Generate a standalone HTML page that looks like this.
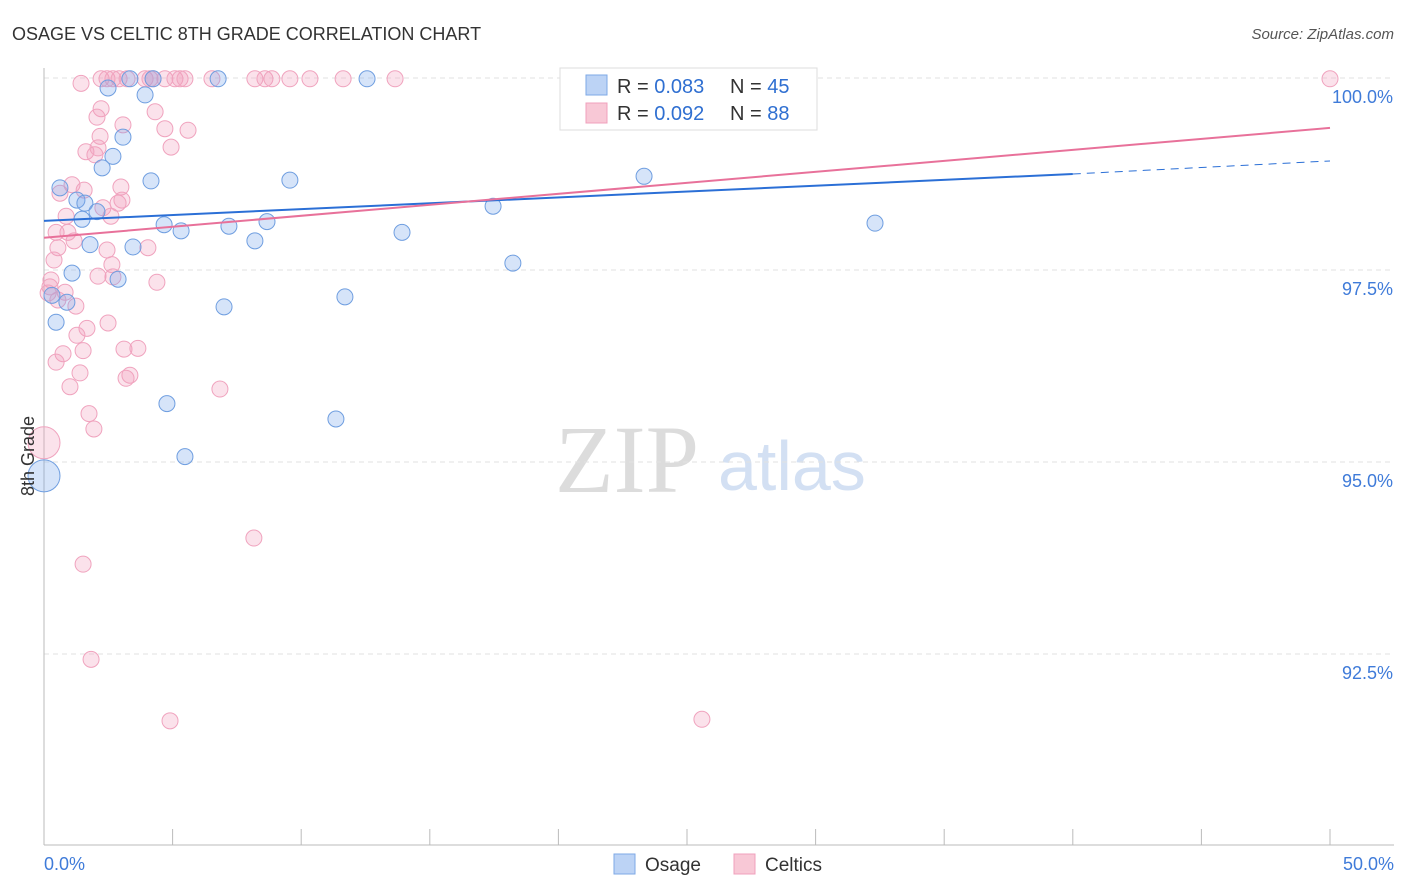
<!DOCTYPE html>
<html><head><meta charset="utf-8"><style>
body{margin:0;background:#fff;font-family:"Liberation Sans",sans-serif}
svg{display:block}
</style></head><body>
<svg id="chart" width="1406" height="892" xmlns="http://www.w3.org/2000/svg">
<text x="12" y="40" font-size="18" fill="#333">OSAGE VS CELTIC 8TH GRADE CORRELATION CHART</text>
<text x="1394" y="39" font-size="15" fill="#555" font-style="italic" text-anchor="end">Source: ZipAtlas.com</text>
<g>
<text x="555" y="492" font-size="96" fill="#dcdcdc" font-family="Liberation Serif,serif">ZIP</text>
<text x="718" y="490" font-size="70" fill="#d3e0f3">atlas</text>
</g>
<g id="grid"></g>
<g id="axes"></g>
<g id="marks"></g>
<g>
<rect x="560" y="68" width="257" height="62" fill="#fff" stroke="#ddd"/>
<rect x="586" y="75" width="21" height="20" fill="#bcd3f5" stroke="#7ea8e6"/>
<text x="617" y="93" font-size="20" fill="#333">R = <tspan fill="#2f6fd1">0.083</tspan></text>
<text x="730" y="93" font-size="20" fill="#333">N = <tspan fill="#2f6fd1">45</tspan></text>
<rect x="586" y="103" width="21" height="20" fill="#f8c8d6" stroke="#f0a0bc"/>
<text x="617" y="120" font-size="20" fill="#333">R = <tspan fill="#2f6fd1">0.092</tspan></text>
<text x="730" y="120" font-size="20" fill="#333">N = <tspan fill="#2f6fd1">88</tspan></text>
</g>
<g>
<rect x="614" y="854" width="21" height="20" fill="#bcd3f5" stroke="#7ea8e6"/>
<text x="645" y="871" font-size="19" fill="#333">Osage</text>
<rect x="734" y="854" width="21" height="20" fill="#f8c8d6" stroke="#f0a0bc"/>
<text x="765" y="871" font-size="19" fill="#333">Celtics</text>
</g>
<text transform="translate(34,456) rotate(-90)" font-size="18" fill="#333" text-anchor="middle">8th Grade</text>
</svg>
<script>
const yTicks=[100,97.5,95,92.5];
const yTickLabels=["100.0%","97.5%","95.0%","92.5%"];
const xEndLabels=["0.0%","50.0%"];
const osageX=[2.49,3.34,4.24,6.77,12.56,22.75,3.93,3.07,2.68,2.26,0.62,4.16,9.56,23.33,1.28,1.59,2.06,1.48,4.67,5.33,7.19,8.67,8.20,13.92,17.46,32.31,1.79,3.46,18.23,1.09,2.88,0.31,0.89,11.70,7.00,0.47,4.78,11.35,5.48,0];
const osageY=[99.87,99.99,99.99,99.99,99.99,99.99,99.78,99.23,98.98,98.83,98.57,98.66,98.67,98.72,98.41,98.37,98.26,98.16,98.09,98.01,98.07,98.13,97.88,97.99,98.33,98.11,97.83,97.80,97.59,97.46,97.38,97.17,97.08,97.15,97.02,96.82,95.76,95.56,95.07,94.82];
const osageSize=[1,1,1,1,1,1,1,1,1,1,1,1,1,1,1,1,1,1,1,1,1,1,1,1,1,1,1,1,1,1,1,1,1,1,1,1,1,1,1,2];
const celticX=[1.44,2.22,2.45,2.68,2.92,3.23,3.93,4.12,4.24,4.70,5.09,5.29,5.48,6.53,8.20,8.59,8.86,9.56,10.34,11.63,13.65,50,2.22,3.07,2.06,4.32,4.70,5.60,2.18,4.94,1.63,1.98,2.10,1.09,1.56,0.62,2.99,3.03,2.88,2.29,0.86,2.60,0.47,0.93,1.17,4.04,2.45,0.54,0.39,2.64,2.10,0.27,4.39,2.68,0.23,0.16,0.82,1.24,0.54,1.67,2.49,1.28,1.52,0.74,3.11,3.65,0.47,1.40,3.34,3.19,1.01,6.84,1.75,1.94,0,8.16,1.52,1.83,4.90,25.58];
const celticY=[99.93,99.99,99.99,99.99,99.99,99.99,99.99,99.99,99.99,99.99,99.99,99.99,99.99,99.99,99.99,99.99,99.99,99.99,99.99,99.99,99.99,99.99,99.60,99.39,99.49,99.56,99.34,99.32,99.24,99.10,99.04,99.00,99.09,98.61,98.54,98.50,98.58,98.41,98.37,98.31,98.20,98.20,97.99,97.99,97.88,97.79,97.76,97.79,97.63,97.57,97.42,97.37,97.34,97.41,97.28,97.20,97.21,97.03,97.11,96.74,96.81,96.65,96.45,96.41,96.47,96.48,96.30,96.16,96.13,96.09,95.98,95.95,95.63,95.43,95.25,94.01,93.67,92.43,91.63,91.65];
const osageLine=[[0,98.14],[40,98.75]];
const osageDash=[[40,98.75],[50,98.92]];
const celticLine=[[0,97.92],[50,99.35]];
const NS='http://www.w3.org/2000/svg';
const X0=44,X1=1330,Y0=78,PPY=76.8;
const sx=v=>X0+(v/50)*(X1-X0);
const sy=v=>Y0+(100-v)*PPY;
function mk(tag,attrs,parent){const e=document.createElementNS(NS,tag);for(const k in attrs)e.setAttribute(k,attrs[k]);document.getElementById(parent).appendChild(e);return e;}
yTicks.forEach((t,i)=>{
 const g=mk('line',{x1:X0,x2:1394,y1:sy(t),y2:sy(t),stroke:'#e2e2e2','stroke-dasharray':'5,4'},'grid');
 
 
 const l=mk('text',{x:1393,y:sy(t)+25,'font-size':18,fill:'#3f7bd9','text-anchor':'end'},'grid');
 l.textContent=yTickLabels[i];
 
 
});
const ax=mk('line',{x1:X0,x2:X0,y1:68,y2:845,stroke:'#bbb'},'axes');


const bx=mk('line',{x1:X0,x2:1394,y1:845,y2:845,stroke:'#bbb'},'axes');


for(let i=0;i<=10;i++){
 const t=mk('line',{x1:sx(i*5),x2:sx(i*5),y1:829,y2:845,stroke:'#bbb'},'axes');
 
 
}
[[0,'start'],[50,'end']].forEach((p,i)=>{
 const l=mk('text',{x:sx(p[0])+(i?64:0),y:870,'font-size':18,fill:'#3f7bd9','text-anchor':p[1]},'axes');
 l.textContent=xEndLabels[i];
 
 
});
celticX.forEach((x,i)=>{
 const c=mk('circle',{cx:sx(x),cy:sy(celticY[i]),r:x===0?16:8,fill:'rgba(243,160,190,0.3)',stroke:'#f0a3be','stroke-width':1},'marks');
 
 
});
osageX.forEach((x,i)=>{
 const c=mk('circle',{cx:sx(x),cy:sy(osageY[i]),r:8*osageSize[i],fill:'rgba(120,165,235,0.3)',stroke:'#6f9ee0','stroke-width':1},'marks');
 
 
});
const l1=mk('line',{x1:sx(osageLine[0][0]),y1:sy(osageLine[0][1]),x2:sx(osageLine[1][0]),y2:sy(osageLine[1][1]),stroke:'#2b6fd6','stroke-width':2},'marks');


const l2=mk('line',{x1:sx(osageDash[0][0]),y1:sy(osageDash[0][1]),x2:sx(osageDash[1][0]),y2:sy(osageDash[1][1]),stroke:'#2b6fd6','stroke-width':1,'stroke-dasharray':'8,6'},'marks');


const l3=mk('line',{x1:sx(celticLine[0][0]),y1:sy(celticLine[0][1]),x2:sx(celticLine[1][0]),y2:sy(celticLine[1][1]),stroke:'#e8719a','stroke-width':2},'marks');


</script>
</body></html>
